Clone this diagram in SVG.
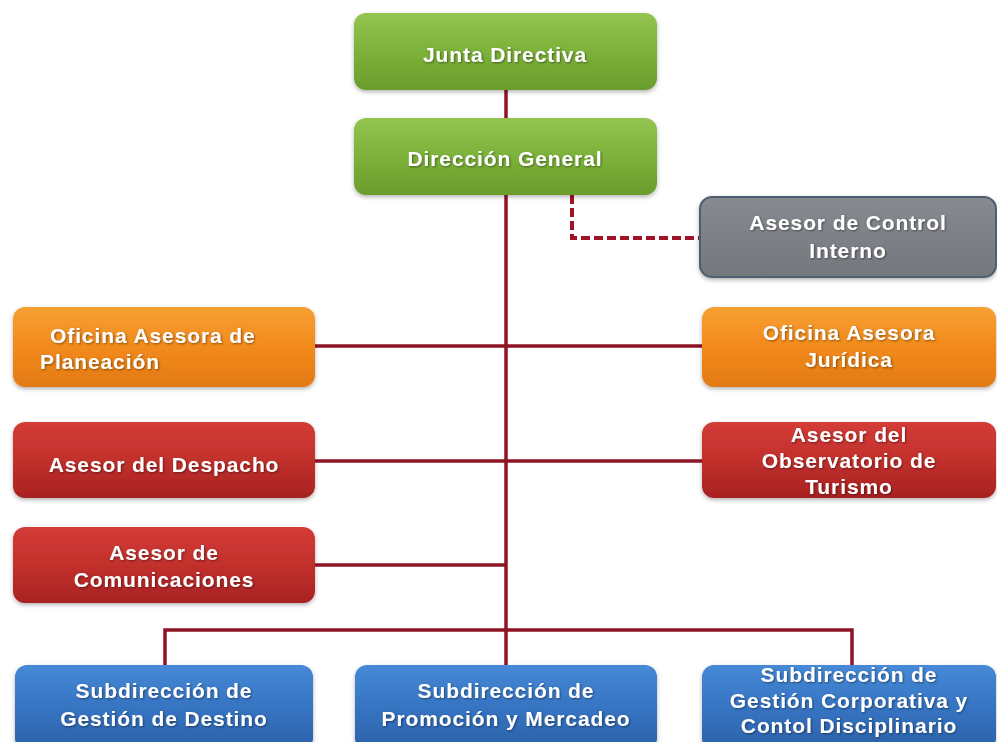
<svg xmlns="http://www.w3.org/2000/svg" width="997" height="742" viewBox="0 0 997 742">
<defs>
<linearGradient id="gGreen" x1="0" y1="0" x2="0" y2="1"><stop offset="0" stop-color="#93c450"/><stop offset="0.5" stop-color="#7cb13a"/><stop offset="1" stop-color="#6a9c2c"/></linearGradient>
<linearGradient id="gOrange" x1="0" y1="0" x2="0" y2="1"><stop offset="0" stop-color="#f7a033"/><stop offset="0.5" stop-color="#f28a1c"/><stop offset="1" stop-color="#e27a12"/></linearGradient>
<linearGradient id="gRed" x1="0" y1="0" x2="0" y2="1"><stop offset="0" stop-color="#d43c36"/><stop offset="0.5" stop-color="#c2302c"/><stop offset="1" stop-color="#a82222"/></linearGradient>
<linearGradient id="gBlue" x1="0" y1="0" x2="0" y2="1"><stop offset="0" stop-color="#4689d6"/><stop offset="0.5" stop-color="#3674c2"/><stop offset="1" stop-color="#2b60a8"/></linearGradient>
<linearGradient id="gGray" x1="0" y1="0" x2="0" y2="1"><stop offset="0" stop-color="#878a90"/><stop offset="1" stop-color="#74777d"/></linearGradient>
<filter id="boxShadow" x="-10%" y="-10%" width="120%" height="130%"><feDropShadow dx="0" dy="2" stdDeviation="2" flood-color="#000" flood-opacity="0.3"/></filter>
<filter id="txtShadow" x="-5%" y="-20%" width="110%" height="150%"><feDropShadow dx="1" dy="1" stdDeviation="0.8" flood-color="#000" flood-opacity="0.45"/></filter>
</defs>
<style>
.box{filter:url(#boxShadow)}
.t{font-family:"Liberation Sans",Arial,sans-serif;font-weight:bold;font-size:21px;letter-spacing:0.9px;fill:#ffffff;text-anchor:middle;filter:url(#txtShadow)}
.ts{text-anchor:start}
.ln{stroke:#8e1424;stroke-width:3.5;fill:none}
.dash{stroke:#9e1426;stroke-width:4;fill:none;stroke-dasharray:9 4}
</style>
<rect width="997" height="742" fill="#ffffff"/>
<g id="connectors">
<line class="ln" x1="506" y1="90" x2="506" y2="118"/>
<line class="ln" x1="506" y1="195" x2="506" y2="665"/>
<line class="ln" x1="315" y1="346" x2="702" y2="346"/>
<line class="ln" x1="315" y1="461" x2="702" y2="461"/>
<line class="ln" x1="315" y1="565" x2="506" y2="565"/>
<polyline class="ln" points="165,665 165,630 852,630 852,665"/>
<polyline class="dash" points="572,195 572,238 700,238"/>
</g>
<g id="junta"><rect class="box" x="354" y="13" width="303" height="77" rx="12" fill="url(#gGreen)"/><text class="t" x="505" y="62">Junta Directiva</text></g>
<g id="direccion"><rect class="box" x="354" y="118" width="303" height="77" rx="12" fill="url(#gGreen)"/><text class="t" x="505" y="166">Dirección General</text></g>
<g id="control"><rect class="box" x="700" y="197" width="296" height="80" rx="12" fill="url(#gGray)" stroke="#4e5e70" stroke-width="2"/><text class="t" x="848" y="230">Asesor de Control</text><text class="t" x="848" y="258">Interno</text></g>
<g id="planeacion"><rect class="box" x="13" y="307" width="302" height="80" rx="12" fill="url(#gOrange)"/><text class="t ts" x="50" y="343">Oficina Asesora de</text><text class="t ts" x="40" y="369">Planeación</text></g>
<g id="juridica"><rect class="box" x="702" y="307" width="294" height="80" rx="12" fill="url(#gOrange)"/><text class="t" x="849" y="340">Oficina Asesora</text><text class="t" x="849" y="367">Jurídica</text></g>
<g id="despacho"><rect class="box" x="13" y="422" width="302" height="76" rx="12" fill="url(#gRed)"/><text class="t" x="164" y="472">Asesor del Despacho</text></g>
<g id="observatorio"><rect class="box" x="702" y="422" width="294" height="76" rx="12" fill="url(#gRed)"/><text class="t" x="849" y="442">Asesor del</text><text class="t" x="849" y="468">Observatorio de</text><text class="t" x="849" y="494">Turismo</text></g>
<g id="comunicaciones"><rect class="box" x="13" y="527" width="302" height="76" rx="12" fill="url(#gRed)"/><text class="t" x="164" y="560">Asesor de</text><text class="t" x="164" y="587">Comunicaciones</text></g>
<g id="destino"><rect class="box" x="15" y="665" width="298" height="86" rx="12" fill="url(#gBlue)"/><text class="t" x="164" y="698">Subdirección de</text><text class="t" x="164" y="726">Gestión de Destino</text></g>
<g id="promocion"><rect class="box" x="355" y="665" width="302" height="86" rx="12" fill="url(#gBlue)"/><text class="t" x="506" y="698">Subdirección de</text><text class="t" x="506" y="726">Promoción y Mercadeo</text></g>
<g id="corporativa"><rect class="box" x="702" y="665" width="294" height="86" rx="12" fill="url(#gBlue)"/><text class="t" x="849" y="682">Subdirección de</text><text class="t" x="849" y="708">Gestión Corporativa y</text><text class="t" x="849" y="733">Contol Disciplinario</text></g>
</svg>
